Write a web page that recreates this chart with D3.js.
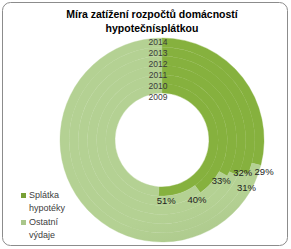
<!DOCTYPE html>
<html>
<head>
<meta charset="utf-8">
<script src="https://cdn.jsdelivr.net/npm/d3@7"></script>
<style>
  body { margin: 0; background: #fff; }
  text { font-family: "Liberation Sans", Arial, sans-serif; }
</style>
</head>
<body>
<div id="chart"></div>
<script>
var years = ['2009', '2010', '2011', '2012', '2013', '2014']
var splatka = [51, 40, 33, 32, 31, 29]   // % of budget
var ostatni = [49, 60, 67, 68, 69, 71]
var series = ['Splátka hypotéky', 'Ostatní výdaje']
var titleLines = ['Míra zatížení rozpočtů domácností', 'hypotečnísplátkou']

var W = 291, H = 249
var cx = 162, cy = 140, rIn = 47, rOut = 102

// labels were dragged by hand in the original, small nudges per ring
var labelNudge = [[8, 0], [-6, 3], [-10, 3], [1, -5], [-6, 12], [-1, 5]]

var svg = d3.select('#chart').append('svg').attr('width', W).attr('height', H)

// gradients like excel's shaded fills
var defs = svg.append('defs')
function grad(id, top, bottom){
  var g = defs.append('linearGradient').attr('id', id)
    .attr('gradientUnits', 'userSpaceOnUse')
    .attr('x1', cx - 40).attr('y1', cy - rOut).attr('x2', cx + 20).attr('y2', cy + rOut)
  g.append('stop').attr('offset', 0).attr('stop-color', top)
  g.append('stop').attr('offset', 1).attr('stop-color', bottom)
}
grad('gDark', '#86b13e', '#6c9330')
grad('gLight', '#b4d193', '#93ab74')
var fills = ['url(#gDark)', 'url(#gLight)']
var legendCol = ['#77a035', '#a9c68a']

// frame
svg.append('rect').attr('x', 2.5).attr('y', 2.5).attr('width', W - 6).attr('height', H - 6)
  .attr('rx', 8).attr('fill', '#fff').attr('stroke', '#8c8c8c').attr('stroke-width', 1)

var ring = d3.scaleBand().domain(years).range([rIn, rOut])
var pie = d3.pie().sort(null)

var g = svg.append('g').attr('transform', 'translate(' + cx + ',' + cy + ')')

years.forEach(function(y, i){
  var arcs = pie([splatka[i], ostatni[i]])
  var arc = d3.arc().innerRadius(ring(y)).outerRadius(ring(y) + ring.bandwidth())
  g.selectAll('path.r' + i).data(arcs).enter().append('path')
    .attr('d', arc)
    .attr('fill', function(d, j){ return fills[j] })
    .attr('stroke', function(d, j){ return fills[j] })
    .attr('stroke-width', 0.5).attr('stroke-opacity', 0.7)
})

// percentage labels near the end of each dark slice
years.forEach(function(y, i){
  var a = pie([splatka[i], ostatni[i]])[0].endAngle
  var r = ring(y) + ring.bandwidth() / 2 + 9
  g.append('text')
    .attr('x', Math.sin(a) * r + labelNudge[i][0]).attr('y', -Math.cos(a) * r + labelNudge[i][1])
    .attr('dy', '0.35em').attr('text-anchor', 'middle')
    .attr('font-size', 9.5).attr('fill', '#222')
    .text(splatka[i] + '%')
})

// year labels down the top of the rings
var yLab = d3.scalePoint().domain(years.slice().reverse()).range([42, 97])
svg.selectAll('text.year').data(years).enter().append('text')
  .attr('class', 'year')
  .attr('x', cx - 4).attr('y', function(d){ return yLab(d) })
  .attr('dy', '0.35em').attr('text-anchor', 'middle')
  .attr('font-size', 8.5).attr('fill', '#3a3a3a')
  .text(function(d){ return d })

// title
svg.selectAll('text.title').data(titleLines).enter().append('text')
  .attr('class', 'title')
  .attr('x', 152).attr('y', function(d, i){ return 18 + i * 14 })
  .attr('text-anchor', 'middle').attr('font-size', 10.5).attr('font-weight', 'bold')
  .attr('fill', '#000')
  .text(function(d){ return d })

// legend
var leg = svg.selectAll('g.leg').data(series).enter().append('g')
  .attr('transform', function(d, i){ return 'translate(21,' + (197 + i * 27) + ')' })
leg.append('rect').attr('width', 5).attr('height', 5).attr('y', -4)
  .attr('fill', function(d, i){ return legendCol[i] })
leg.each(function(d){
  var words = d.split(' ')
  d3.select(this).selectAll('text').data(words).enter().append('text')
    .attr('x', 8).attr('y', function(w, k){ return 1 + k * 13 })
    .attr('font-size', 9).attr('fill', '#404040')
    .text(function(w){ return w })
})
</script>
</body>
</html>
